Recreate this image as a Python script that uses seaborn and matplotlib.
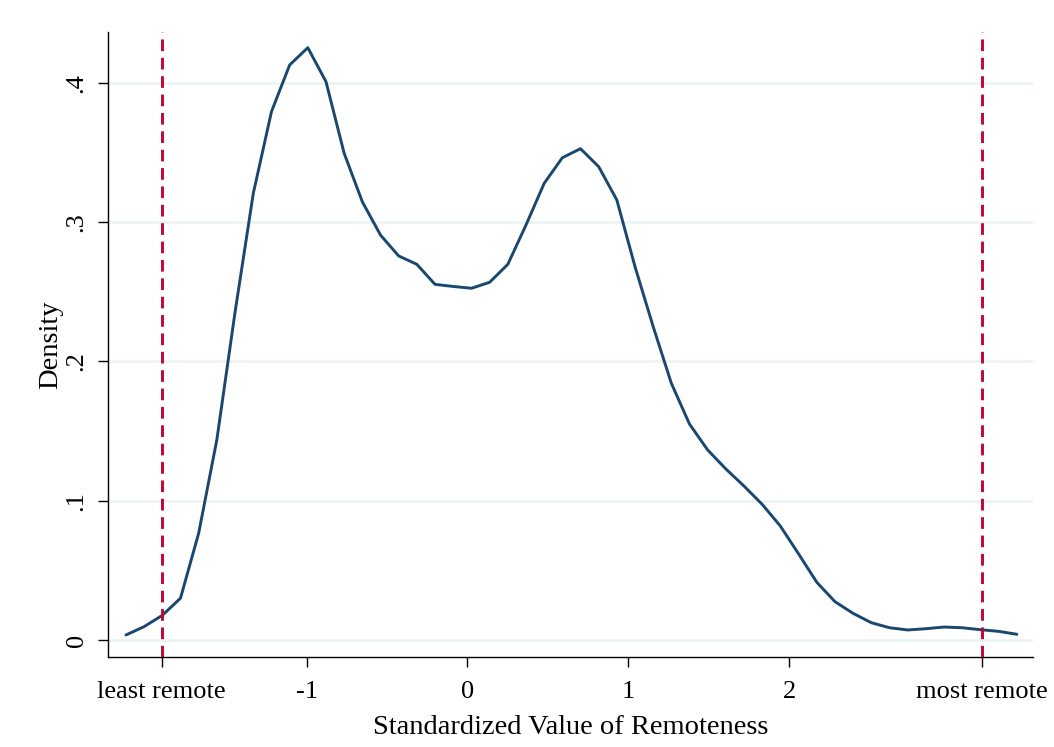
import matplotlib
matplotlib.use("Agg")
import matplotlib.pyplot as plt
import seaborn as sns
import pandas as pd

# Kernel density of standardized remoteness, evaluated at 50 grid points
remoteness = [
    -2.124, -2.011, -1.898, -1.785, -1.672, -1.559, -1.446, -1.332, -1.219, -1.106,
    -0.993, -0.880, -0.767, -0.654, -0.541, -0.428, -0.315, -0.202, -0.089, 0.0251,
    0.138, 0.251, 0.364, 0.477, 0.590, 0.703, 0.816, 0.929, 1.042, 1.155,
    1.268, 1.381, 1.494, 1.607, 1.720, 1.833, 1.946, 2.060, 2.173, 2.286,
    2.399, 2.512, 2.625, 2.738, 2.851, 2.964, 3.077, 3.190, 3.304, 3.417,
]
density = [
    0.0036, 0.0096, 0.0177, 0.0300, 0.0766, 0.1436, 0.2350, 0.3207, 0.3793, 0.4128,
    0.4252, 0.4008, 0.3494, 0.3146, 0.2907, 0.2757, 0.2697, 0.2553, 0.2538, 0.2525,
    0.2568, 0.2697, 0.2979, 0.3278, 0.3462, 0.3527, 0.3398, 0.3159, 0.2680, 0.2250,
    0.1843, 0.1550, 0.1364, 0.1228, 0.1105, 0.0974, 0.0818, 0.0617, 0.0414, 0.0275,
    0.0191, 0.0124, 0.0088, 0.0072, 0.0081, 0.0093, 0.0088, 0.0074, 0.0062, 0.0041,
]

# Extremes of the remoteness scale
least_remote = -1.902
most_remote = 3.200

x_ticks = [least_remote, -1, 0, 1, 2, most_remote]
x_tick_labels = ["least remote", "-1", "0", "1", "2", "most remote"]
y_ticks = [0, 0.1, 0.2, 0.3, 0.4]
y_tick_labels = ["0", ".1", ".2", ".3", ".4"]

sns.set_style("white")
plt.rcParams["font.family"] = ["Liberation Serif", "DejaVu Serif"]
plt.rcParams["text.color"] = "black"
plt.rcParams["axes.labelcolor"] = "black"

fig = plt.figure(figsize=(10.54, 7.47), dpi=100)
ax = fig.add_axes([0.1029, 0.1205, 0.8771, 0.8371])

df = pd.DataFrame({"x": remoteness, "y": density})
sns.lineplot(data=df, x="x", y="y", ax=ax, color="#1a476f", linewidth=2.1,
             zorder=3)

for xv in (least_remote, most_remote):
    ax.axvline(xv, color="#c10534", linewidth=2.1, linestyle=(0, (4, 2.3)),
               zorder=4)

ax.set_xlim(-2.233, 3.517)
ax.set_ylim(-0.0122, 0.4367)

ax.set_yticks(y_ticks)
ax.set_yticklabels(y_tick_labels, rotation=90, va="center")
ax.set_xticks(x_ticks)
ax.set_xticklabels(x_tick_labels)

ax.yaxis.grid(True, color="#eaf2f3", linewidth=1.8)
ax.xaxis.grid(False)
ax.set_axisbelow(True)

for side in ("top", "right"):
    ax.spines[side].set_visible(False)
for side in ("left", "bottom"):
    ax.spines[side].set_color("black")
    ax.spines[side].set_linewidth(1.0)

ax.tick_params(axis="both", which="major", direction="out", length=7.5,
               width=1.0, color="black", labelsize=19, labelcolor="black",
               bottom=True, left=True)
ax.tick_params(axis="y", pad=7.5)
ax.tick_params(axis="x", pad=9.5)

ax.set_xlabel("Standardized Value of Remoteness", fontsize=20.5, labelpad=9)
ax.set_ylabel("Density", fontsize=20.5, labelpad=2)

fig.savefig("out.png", dpi=100, facecolor="white")
